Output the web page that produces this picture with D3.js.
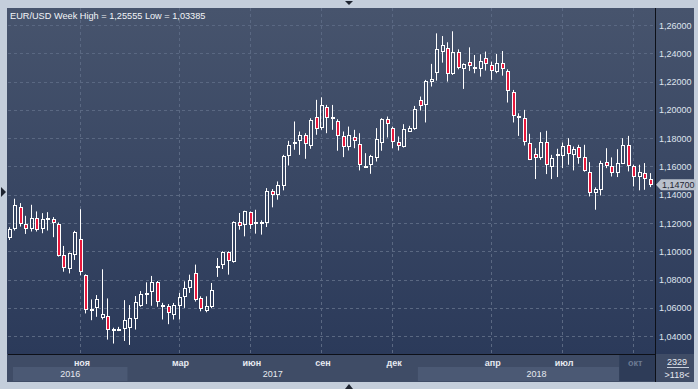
<!DOCTYPE html>
<html>
<head>
<meta charset="utf-8">
<script src="https://cdnjs.cloudflare.com/ajax/libs/d3/7.8.5/d3.min.js"></script>
<style>
  body { margin: 0; background: #c4cedb; }
  svg { display: block; font-family: "Liberation Sans", Arial, sans-serif; }
</style>
</head>
<body>
<script>
// weekly EUR/USD candles (118 bars)
var opens = [1.1093,1.1156,1.1313,1.1194,1.1156,1.1235,1.1156,1.1232,1.1232,1.1192,
  1.0972,1.0873,1.0972,1.1086,1.0835,1.0587,1.0596,1.0532,1.0542,1.0438,
  1.0438,1.0452,1.0461,1.0525,1.0617,1.0697,1.0710,1.0781,1.0610,1.0617,
  1.0553,1.0612,1.0678,1.0741,1.0847,1.0671,1.0576,1.0605,1.0882,1.0904,
  1.0993,1.0922,1.1205,1.1184,1.1275,1.1200,1.1207,1.1200,1.1428,1.1395,
  1.1464,1.1671,1.1760,1.1781,1.1824,1.1748,1.1948,1.1871,1.2019,1.1940,
  1.1922,1.1812,1.1734,1.1807,1.1760,1.1598,1.1612,1.1659,1.1765,1.1936,
  1.1871,1.1772,1.1741,1.1847,1.1868,1.2071,1.2031,1.2200,1.2259,1.2412,
  1.2435,1.2252,1.2412,1.2287,1.2341,1.2306,1.2287,1.2365,1.2318,1.2271,
  1.2329,1.2278,1.2125,1.1960,1.1946,1.1765,1.1687,1.1659,1.1772,1.1595,
  1.1671,1.1671,1.1753,1.1678,1.1741,1.1664,1.1560,1.1412,1.1435,1.1631,
  1.1600,1.1553,1.1619,1.1753,1.1605,1.1525,1.1553,1.1513];
var highs = [1.1170,1.1372,1.1341,1.1251,1.1329,1.1282,1.1270,1.1277,1.1242,1.1204,
  1.1038,1.0991,1.1145,1.1298,1.0837,1.0660,1.0691,1.0873,1.0667,1.0460,
  1.0466,1.0655,1.0620,1.0684,1.0719,1.0781,1.0826,1.0790,1.0636,1.0627,
  1.0635,1.0706,1.0788,1.0835,1.0906,1.0682,1.0682,1.0776,1.0953,1.1000,
  1.1000,1.1212,1.1271,1.1287,1.1282,1.1294,1.1219,1.1447,1.1440,1.1494,
  1.1682,1.1781,1.1918,1.1847,1.1835,1.1941,1.2071,1.2089,1.2035,1.2035,
  1.1934,1.1847,1.1882,1.1859,1.1835,1.1694,1.1682,1.1871,1.1941,1.1953,
  1.1882,1.1812,1.1899,1.1887,1.2028,1.2094,1.2212,1.2325,1.2541,1.2522,
  1.2478,1.25555,1.2428,1.2329,1.2442,1.2388,1.2393,1.2412,1.2341,1.2395,
  1.2416,1.2287,1.2141,1.1976,1.2000,1.1831,1.1729,1.1842,1.1852,1.1682,
  1.1725,1.1769,1.1800,1.1741,1.1753,1.1753,1.1631,1.1452,1.1640,1.1729,
  1.1664,1.1722,1.1800,1.1816,1.1612,1.1612,1.1624,1.1553];
var lows = [1.1080,1.1147,1.1175,1.1123,1.1140,1.1140,1.1128,1.1147,1.1100,1.0963,
  1.0856,1.0844,1.0939,1.0830,1.0561,1.0513,1.0537,1.0518,1.0376,1.0348,
  1.0436,1.0366,1.03385,1.0447,1.0608,1.0627,1.0615,1.0608,1.0518,1.0485,
  1.0518,1.0518,1.0600,1.0706,1.0645,1.0576,1.0569,1.0598,1.0819,1.0875,
  1.0835,1.0920,1.1153,1.1106,1.1158,1.1125,1.1118,1.1172,1.1311,1.1365,
  1.1431,1.1607,1.1718,1.1682,1.1654,1.1725,1.1824,1.1859,1.1835,1.1859,
  1.1711,1.1666,1.1713,1.1729,1.1572,1.1595,1.1548,1.1635,1.1711,1.1805,
  1.1729,1.1713,1.1734,1.1845,1.1859,1.1995,1.1911,1.2165,1.2207,1.2334,
  1.2200,1.2247,1.2287,1.2148,1.2275,1.2259,1.2235,1.2278,1.2212,1.2259,
  1.2242,1.2052,1.1911,1.1816,1.1748,1.1645,1.1511,1.1647,1.1546,1.1511,
  1.1525,1.1588,1.1612,1.1572,1.1619,1.1563,1.1388,1.1294,1.1395,1.1588,
  1.1529,1.1525,1.1617,1.1565,1.1459,1.1431,1.1435,1.1454];
var closes = [1.1156,1.1329,1.1192,1.1156,1.1235,1.1149,1.1227,1.1238,1.1199,1.0967,
  1.0880,1.0986,1.1140,1.0854,1.0584,1.0592,1.0662,1.0554,1.0447,1.0454,
  1.0452,1.0513,1.0530,1.0639,1.0696,1.0702,1.0781,1.0639,1.0624,1.0561,
  1.0624,1.0678,1.0741,1.0800,1.0654,1.0593,1.0616,1.0725,1.0899,1.0993,
  1.0929,1.1205,1.1176,1.1282,1.1188,1.1207,1.1191,1.1428,1.1395,1.1468,
  1.1671,1.1753,1.1774,1.1824,1.1758,1.1929,1.1864,1.2035,1.1946,1.1948,
  1.1812,1.1736,1.1824,1.1781,1.1607,1.1602,1.1671,1.1795,1.1936,1.1899,
  1.1772,1.1748,1.1866,1.1871,1.2005,1.2024,1.2205,1.2216,1.2428,1.2459,
  1.2252,1.2407,1.2294,1.2322,1.2311,1.2287,1.2348,1.2322,1.2278,1.2329,
  1.2287,1.2134,1.1960,1.1941,1.1772,1.1647,1.1659,1.1772,1.1607,1.1659,
  1.1689,1.1746,1.1687,1.1722,1.1659,1.1565,1.1412,1.1442,1.1624,1.1600,
  1.1553,1.1624,1.1753,1.1600,1.1525,1.1560,1.1511,1.1470];

var yTicks = [1.04,1.06,1.08,1.10,1.12,1.14,1.16,1.18,1.20,1.22,1.24,1.26];
var monthTicks = [13,31,44,57,70,88,101,114];          // bar index of first week of month
var monthLabels = ["ноя","мар","июн","сен","дек","апр","июл","окт"];
var yearStarts = [0,22,75];                            // bar index of first week of year
var yearLabels = ["2016","2017","2018"];
var lastPrice = 1.147;
var titleText = "EUR/USD Week High = 1,25555 Low = 1,03385";

window.onload = function() {
    var W = 698, H = 389;
    var left = 8, top = 8, right = 655, bottom = 354, axisBottom = 382, panelRight = 694;

    var svg = d3.select("body").append("svg")
        .attr("width", W).attr("height", H);

    // gradients
    var defs = svg.append("defs");
    var grad = defs.append("linearGradient").attr("id", "bg")
        .attr("x1", 0).attr("y1", 0).attr("x2", 0).attr("y2", 1);
    grad.append("stop").attr("offset", "0%").attr("stop-color", "#47546d");
    grad.append("stop").attr("offset", "100%").attr("stop-color", "#2b3a5a");
    defs.append("clipPath").attr("id", "plotclip")
        .append("rect").attr("x", left).attr("y", top)
        .attr("width", right - left).attr("height", bottom - top);

    // outer frame
    svg.append("rect").attr("width", W).attr("height", H).attr("fill", "#c4cedb");
    svg.append("rect").attr("x", left - 1).attr("y", top)
        .attr("width", panelRight - left + 1).attr("height", bottom - top)
        .attr("fill", "url(#bg)");
    // bottom axis bar
    svg.append("rect").attr("x", left - 1).attr("y", bottom)
        .attr("width", panelRight - left + 1).attr("height", axisBottom - bottom)
        .attr("fill", "#3f4c66");

    // scales
    var x = d3.scaleLinear().domain([0, opens.length - 1]).range([9.7, 650.7]);
    var y = d3.scaleLinear().domain([1.04, 1.26]).range([336.2, 25]);

    // grid
    svg.append("g").selectAll("line").data(yTicks).enter().append("line")
        .attr("x1", left).attr("x2", right)
        .attr("y1", function(d) { return Math.round(y(d)) + 0.5; })
        .attr("y2", function(d) { return Math.round(y(d)) + 0.5; })
        .attr("stroke", "#5a6882").attr("stroke-dasharray", "3,3");
    svg.append("g").selectAll("line").data(monthTicks).enter().append("line")
        .attr("x1", function(d) { return Math.round(x(d)) - 0.5; })
        .attr("x2", function(d) { return Math.round(x(d)) - 0.5; })
        .attr("y1", top).attr("y2", bottom)
        .attr("stroke", "#5a6882").attr("stroke-dasharray", "3,3");

    // candles
    var data = opens.map(function(o, i) {
        return {i: i, o: o, h: highs[i], l: lows[i], c: closes[i]};
    });
    var cg = svg.append("g").attr("clip-path", "url(#plotclip)");
    var candle = cg.selectAll("g").data(data).enter().append("g");
    function bodyTop(d) { return Math.round(y(Math.max(d.o, d.c))); }
    function bodyBot(d) { return Math.max(Math.round(y(Math.min(d.o, d.c))), bodyTop(d) + 2); }
    candle.append("line")
        .attr("x1", function(d) { return Math.round(x(d.i)) - 0.5; })
        .attr("x2", function(d) { return Math.round(x(d.i)) - 0.5; })
        .attr("y1", function(d) { return y(d.h); })
        .attr("y2", function(d) { return bodyTop(d); })
        .attr("stroke", "#fff");
    candle.append("line")
        .attr("x1", function(d) { return Math.round(x(d.i)) - 0.5; })
        .attr("x2", function(d) { return Math.round(x(d.i)) - 0.5; })
        .attr("y1", function(d) { return bodyBot(d); })
        .attr("y2", function(d) { return y(d.l); })
        .attr("stroke", "#fff");
    candle.append("rect")
        .attr("x", function(d) { return Math.round(x(d.i)) - 1.5; })
        .attr("y", function(d) { return bodyTop(d) + 0.5; })
        .attr("width", 3)
        .attr("height", function(d) { return bodyBot(d) - bodyTop(d) - 1; })
        .attr("fill", function(d) { return d.c < d.o ? "#e8183c" : "none"; })
        .attr("stroke", "#fff");

    // title
    svg.append("text").attr("x", 10).attr("y", 19)
        .attr("fill", "#f2f4f8").style("font-size", "9.2px")
        .text(titleText);

    // separators
    svg.append("line").attr("x1", left).attr("x2", right)
        .attr("y1", bottom + 0.5).attr("y2", bottom + 0.5).attr("stroke", "#0d1018");
    svg.append("line").attr("x1", right + 0.5).attr("x2", right + 0.5)
        .attr("y1", top).attr("y2", axisBottom).attr("stroke", "#0d1018");

    // right axis labels
    svg.append("g").selectAll("text").data(yTicks).enter().append("text")
        .attr("x", 659).attr("y", function(d) { return y(d) + 3.5; })
        .attr("fill", "#dfe4ee").style("font-size", "9px")
        .text(function(d) { return d3.format(".5f")(d).replace(".", ","); });

    // last price tag
    var py = y(lastPrice);
    svg.append("path")
        .attr("d", "M656," + py + "L661," + (py - 5.5) + "H696V" + (py + 5.5) + "H661Z")
        .attr("fill", "#b9c0cc");
    svg.append("text").attr("x", 662).attr("y", py + 3.5)
        .attr("fill", "#1f2633").style("font-size", "9px")
        .text(d3.format(".5f")(lastPrice).replace(".", ","));

    // year bands
    var bandEdges = yearStarts.map(function(s) { return x(s - 0.5); });
    var curStart = x(monthTicks[monthTicks.length - 1]) - 15;
    bandEdges[0] = left + 5;
    bandEdges.push(curStart);
    yearLabels.forEach(function(lab, k) {
        if (k % 2 === 0) {
            svg.append("rect").attr("x", bandEdges[k]).attr("y", 367)
                .attr("width", bandEdges[k + 1] - bandEdges[k]).attr("height", 14)
                .attr("fill", "#4b5974");
        }
    });
    // current month box
    svg.append("rect").attr("x", curStart).attr("y", 355)
        .attr("width", right - curStart).attr("height", 26)
        .attr("fill", "#2e3c58");
    yearLabels.forEach(function(lab, k) {
        var endX = k < yearLabels.length - 1 ? bandEdges[k + 1] : right;
        svg.append("text").attr("x", (bandEdges[k] + endX) / 2).attr("y", 377)
            .attr("text-anchor", "middle").attr("fill", "#e6e9f0")
            .style("font-size", "9px").text(lab);
    });

    // month labels
    svg.append("g").selectAll("text").data(monthTicks).enter().append("text")
        .attr("x", function(d) { return x(d) + 1; })
        .attr("y", 366)
        .attr("text-anchor", "middle")
        .attr("fill", function(d, i) { return i === monthTicks.length - 1 ? "#6c7a92" : "#e6e9f0"; })
        .style("font-size", "9px").style("font-weight", "bold")
        .text(function(d, i) { return monthLabels[i]; });

    // bars counter in corner
    svg.append("text").attr("x", 677).attr("y", 365).attr("text-anchor", "middle")
        .attr("fill", "#e6e9f0").style("font-size", "9px").text("2329");
    svg.append("line").attr("x1", 667).attr("x2", 689)
        .attr("y1", 367.5).attr("y2", 367.5).attr("stroke", "#c9d0dc");
    svg.append("text").attr("x", 677).attr("y", 378).attr("text-anchor", "middle")
        .attr("fill", "#e6e9f0").style("font-size", "9px").text(">" + opens.length + "<");

    // small scroll markers on the frame
    svg.append("path").attr("d", "M345,1H353L349,5Z").attr("fill", "#1e2430");
    svg.append("path").attr("d", "M345,389H353L349,384Z").attr("fill", "#1e2430");
    svg.append("path").attr("d", "M1,187L6,192L1,197Z").attr("fill", "#1e2430");
};
</script>
</body>
</html>
